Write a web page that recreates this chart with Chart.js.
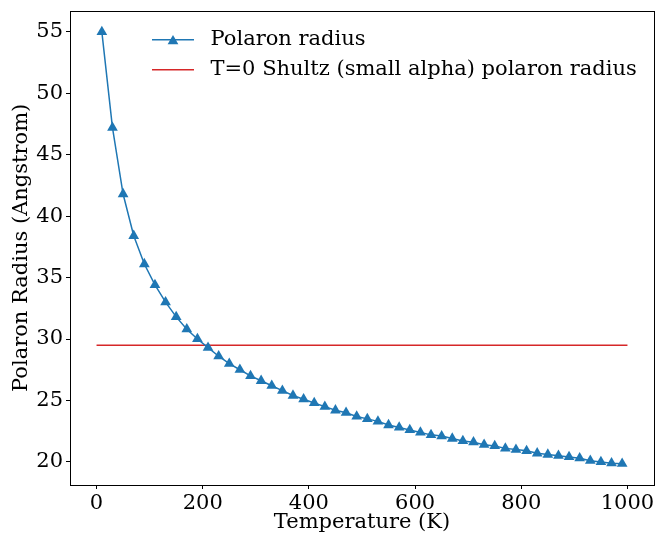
<!DOCTYPE html>
<html>
<head>
<meta charset="utf-8">
<script src="https://cdn.jsdelivr.net/npm/chart.js@4"></script>
<style>
  html, body { margin: 0; padding: 0; background: #fff; }
</style>
</head>
<body>
<canvas id="chart" width="667" height="535"></canvas>
<script>
// Temperatures (K)
const temps = [10, 30, 50, 70, 90, 110, 130, 150, 170, 190,
  210, 230, 250, 270, 290, 310, 330, 350, 370, 390,
  410, 430, 450, 470, 490, 510, 530, 550, 570, 590,
  610, 630, 650, 670, 690, 710, 730, 750, 770, 790,
  810, 830, 850, 870, 890, 910, 930, 950, 970, 990];

// Polaron radius (Angstrom)
const radius = [55.0, 47.2, 41.8, 38.4, 36.1, 34.4, 33.0, 31.8, 30.8, 30.0,
  29.3, 28.6, 28.0, 27.5, 27.0, 26.6, 26.2, 25.8, 25.4, 25.1,
  24.8, 24.5, 24.2, 24.0, 23.7, 23.5, 23.3, 23.0, 22.8, 22.6,
  22.4, 22.2, 22.1, 21.9, 21.7, 21.6, 21.4, 21.3, 21.1, 21.0,
  20.9, 20.7, 20.6, 20.5, 20.4, 20.3, 20.1, 20.0, 19.9, 19.85];

// T=0 Shultz line
const shultzT = [0, 1000];
const shultzR = [29.5, 29.5];

const labels = ["Polaron radius", "T=0 Shultz (small alpha) polaron radius"];
const xTicks = [0, 200, 400, 600, 800, 1000];
const yTicks = [20, 25, 30, 35, 40, 45, 50, 55];

const blue = "#1f77b4";
const red = "#d62728";
const font = "DejaVu Serif";
const fsize = 21;

// Frame around plot area + legend
const framePlugin = {
  id: "frame",
  afterDraw(chart) {
    const { ctx, chartArea: a } = chart;
    ctx.save();
    ctx.strokeStyle = "#000";
    ctx.lineWidth = 1;
    ctx.strokeRect(Math.round(a.left) + 0.5, Math.round(a.top) + 0.5,
      Math.round(a.right - a.left), Math.round(a.bottom - a.top));

    // legend
    const lx = a.left + 82, lw = 42, tx = a.left + 140.5;
    const rows = [a.top + 29, a.top + 59];
    ctx.font = fsize + "px '" + font + "'";
    ctx.textBaseline = "middle";
    chart.data.datasets.forEach((ds, i) => {
      const y = rows[i];
      ctx.strokeStyle = ds.borderColor;
      ctx.lineWidth = 1.5;
      ctx.beginPath();
      ctx.moveTo(lx, y);
      ctx.lineTo(lx + lw, y);
      ctx.stroke();
      if (ds.pointStyle === "triangle") {
        ctx.fillStyle = ds.pointBackgroundColor;
        ctx.strokeStyle = ds.pointBackgroundColor;
        Chart.helpers.drawPoint(ctx, { pointStyle: "triangle", radius: 6.2, rotation: 0, borderWidth: 0 }, lx + lw / 2, y + 1.5);
      }
      ctx.fillStyle = "#000";
      ctx.fillText(ds.label, tx, y);
    });
    ctx.restore();
  }
};

new Chart(document.getElementById("chart"), {
  type: "line",
  data: {
    datasets: [
      {
        label: labels[0],
        data: temps.map((t, i) => ({ x: t, y: radius[i] })),
        borderColor: blue,
        backgroundColor: blue,
        pointBackgroundColor: blue,
        pointBorderColor: blue,
        pointStyle: "triangle",
        pointRadius: 6.2,
        pointBorderWidth: 0,
        borderWidth: 1.5,
        tension: 0
      },
      {
        label: labels[1],
        data: shultzT.map((t, i) => ({ x: t, y: shultzR[i] })),
        borderColor: red,
        backgroundColor: red,
        pointRadius: 0,
        borderWidth: 1.5,
        tension: 0
      }
    ]
  },
  options: {
    responsive: false,
    animation: false,
    devicePixelRatio: 1,
    layout: { padding: { left: 0, right: 13, top: 10.7, bottom: 0 } },
    plugins: { legend: { display: false }, tooltip: { enabled: false } },
    scales: {
      x: {
        type: "linear",
        min: -50,
        max: 1050,
        afterFit(s) { s.height = 50; s.paddingLeft = 0; s.paddingRight = 0; },
        afterBuildTicks(s) { s.ticks = xTicks.map(v => ({ value: v })); },
        ticks: { color: "#000", font: { family: font, size: fsize }, padding: 2, maxRotation: 0, autoSkip: false,
          callback: v => String(v) },
        grid: { display: true, drawOnChartArea: false, drawTicks: true, tickLength: 4, color: "#000" },
        border: { display: false },
        title: { display: true, text: "Temperature (K)", color: "#000", font: { family: font, size: fsize }, padding: { top: 0, bottom: 0 } }
      },
      y: {
        min: 18.12,
        max: 56.72,
        afterFit(s) { s.width = 70; s.paddingTop = 0; s.paddingBottom = 0; },
        afterBuildTicks(s) { s.ticks = yTicks.map(v => ({ value: v })); },
        ticks: { color: "#000", font: { family: font, size: fsize }, padding: 3, autoSkip: false,
          callback: v => String(v) },
        grid: { display: true, drawOnChartArea: false, drawTicks: true, tickLength: 4, color: "#000" },
        border: { display: false },
        title: { display: true, text: "Polaron Radius (Angstrom)", color: "#000", font: { family: font, size: fsize }, padding: { top: 9, bottom: 0 } }
      }
    }
  },
  plugins: [framePlugin]
});
</script>
</body>
</html>
